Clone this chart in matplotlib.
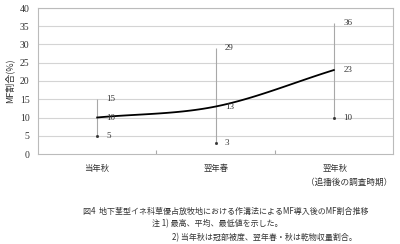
import numpy as np
import matplotlib
matplotlib.use("Agg")
import matplotlib.pyplot as plt

plt.rcParams['font.family'] = ['Liberation Serif', 'Noto Sans CJK JP', 'DejaVu Sans']

categories = ["当年秋", "翌年春", "翌年秋"]
sublabels = ["", "", "（追播後の調査時期）"]
mean_vals = [10, 13, 23]
max_vals = [15, 29, 36]
min_vals = [5, 3, 10]
yticks = [0, 5, 10, 15, 20, 25, 30, 35, 40]

fig = plt.figure(figsize=(4.0, 2.44), dpi=100)
ax = fig.add_axes([38/400, 1-154/244, (393-38)/400, (154-8)/244])

x = np.arange(len(categories))

# smoothed line (Catmull-Rom through the data points)
pts = np.column_stack([x, mean_vals]).astype(float)
ext = np.vstack([pts[0] - (pts[1] - pts[0]), pts, pts[-1] + (pts[-1] - pts[-2])])
curve = []
for i in range(1, len(ext) - 2):
    p0, p1, p2, p3 = ext[i-1], ext[i], ext[i+1], ext[i+2]
    for t in np.linspace(0, 1, 30):
        c = 0.5 * ((2*p1) + (-p0 + p2)*t + (2*p0 - 5*p1 + 4*p2 - p3)*t**2 + (-p0 + 3*p1 - 3*p2 + p3)*t**3)
        curve.append(c)
curve = np.array(curve)

for yv in yticks[1:]:
    ax.axhline(yv, color='#d4d4d4', lw=0.8, zorder=0)

ax.vlines(x, min_vals, max_vals, color='#a8a8a8', lw=0.8, zorder=2)
ax.plot(x, min_vals, 's', color='#333333', ms=1.0, zorder=3)
ax.plot(curve[:, 0], curve[:, 1], color='black', lw=1.3, zorder=4)

for xi, lo, mi, hi in zip(x, min_vals, mean_vals, max_vals):
    for v in (lo, mi, hi):
        ax.text(xi + 0.08, v, str(v), fontsize=6.5, va='center', ha='left', color='#333333', zorder=5)

ax.set_xlim(-0.5, 2.5)
ax.set_ylim(0, 40)
ax.set_yticks(yticks)
ax.set_xticks([0.5, 1.5])
ax.set_xticklabels([])
ax.tick_params(axis='y', length=0, labelsize=7, colors='#333333', pad=6)
ax.tick_params(axis='x', length=3, color='#aaaaaa', direction='in')
for s in ax.spines.values():
    s.set_color('#bbbbbb')
    s.set_linewidth(0.8)

ax.set_ylabel("MF割合(%)", fontsize=6.5, family=['Noto Sans CJK JP'], color='#333333', labelpad=4)

cat_px = [97, 216, 335]
for cx, lab in zip(cat_px, categories):
    fig.text(cx/400, 1-169/244, lab, fontsize=6, family=['Noto Sans CJK JP'], ha='center', va='center',
             color='#333333')
fig.text(349/400, 1-182/244, sublabels[2], fontsize=6.2, family=['Noto Sans CJK JP'], ha='center',
         va='center', color='#333333')

fig.text(83/400, 1-211/244, "図4  地下茎型イネ科草優占放牧地における作溝法によるMF導入後のMF割合推移",
         fontsize=5.75, family=['Noto Sans CJK JP'], ha='left', va='center', color='#333333')
fig.text(152/400, 1-224/244, "注 1) 最高、平均、最低値を示した。",
         fontsize=5.75, family=['Noto Sans CJK JP'], ha='left', va='center', color='#333333')
fig.text(172/400, 1-238/244, "2) 当年秋は冠部被度、翌年春・秋は乾物収量割合。",
         fontsize=5.75, family=['Noto Sans CJK JP'], ha='left', va='center', color='#333333')

fig.savefig("out.png", dpi=100)
